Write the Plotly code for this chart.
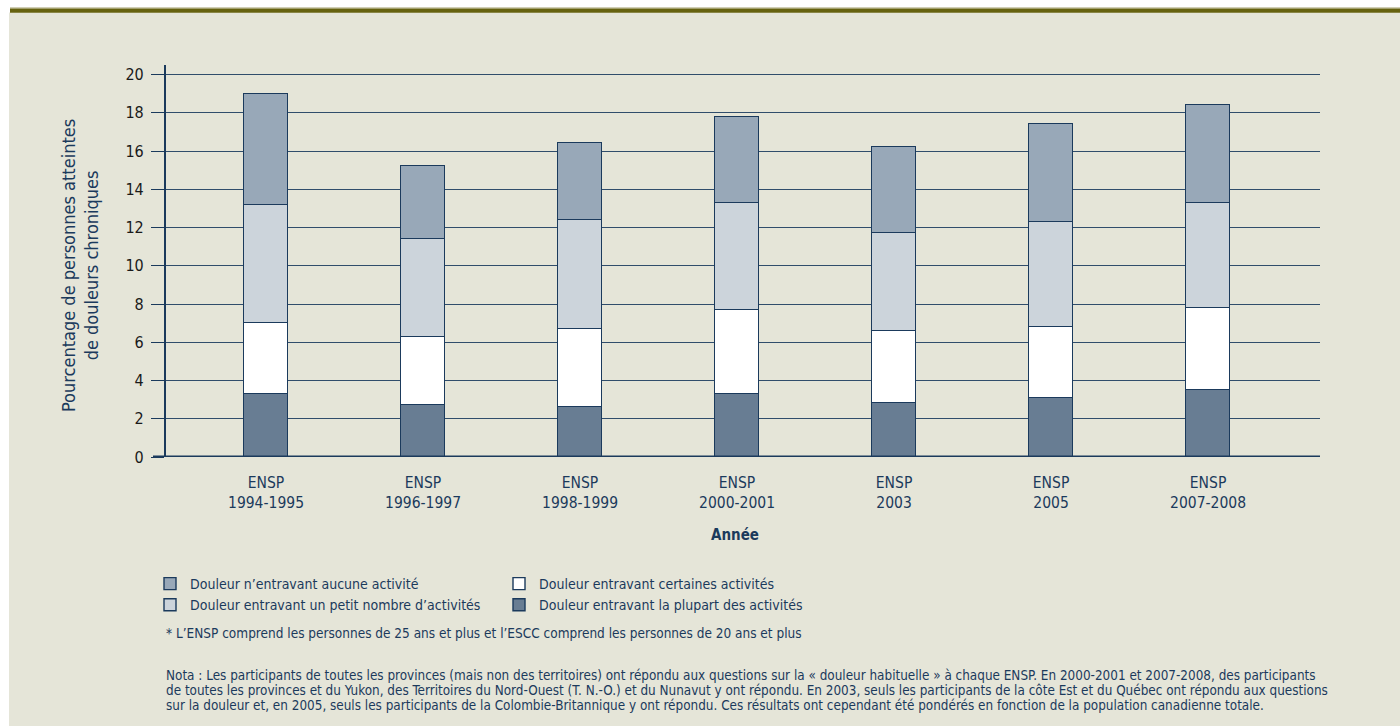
import plotly.graph_objects as go

# ---------------- data ----------------
categories = ["ENSP<br>1994-1995", "ENSP<br>1996-1997", "ENSP<br>1998-1999",
              "ENSP<br>2000-2001", "ENSP<br>2003", "ENSP<br>2005", "ENSP<br>2007-2008"]
plupart = [3.3, 2.7, 2.6, 3.3, 2.8, 3.1, 3.5]      # Douleur entravant la plupart des activités
certaines = [3.7, 3.6, 4.1, 4.4, 3.8, 3.7, 4.3]    # Douleur entravant certaines activités
petit_nombre = [6.2, 5.1, 5.7, 5.6, 5.1, 5.5, 5.5] # Douleur entravant un petit nombre d'activités
aucune = [5.8, 3.8, 4.0, 4.5, 4.5, 5.1, 5.1]       # Douleur n'entravant aucune activité
y_ticks = [0, 2, 4, 6, 8, 10, 12, 14, 16, 18, 20]

# ---------------- style ----------------
FONT = "Liberation Sans Narrow, DejaVu Sans Condensed, Arial Narrow, sans-serif"
NAVY = "#1b3a5c"
BEIGE = "#e5e5d8"
W, H = 1400, 727
L, R, T, B = 166, 80, 65, 270
PW, PH = W - L - R, H - T - B


def px_x(px):
    return (px - L) / PW


def px_y(py):
    return (H - B - py) / PH


line_style = dict(color=NAVY, width=1.4)
fig = go.Figure()
series = [
    ("Douleur entravant la plupart des activités", plupart, "#687d93", 4, "legend2"),
    ("Douleur entravant certaines activités", certaines, "#ffffff", 2, "legend2"),
    ("Douleur entravant un petit nombre d’activités", petit_nombre, "#ccd4db", 3, "legend"),
    ("Douleur n’entravant aucune activité", aucune, "#98a8b8", 1, "legend"),
]
for name, vals, col, rank, lg in series:
    fig.add_trace(go.Bar(
        x=categories, y=vals, name=name, marker=dict(color=col, line=line_style),
        width=0.28, legendrank=rank, legend=lg,
    ))

fig.update_layout(
    width=W, height=H, barmode="stack",
    margin=dict(l=L, r=R, t=T, b=B),
    paper_bgcolor="#ffffff", plot_bgcolor="rgba(0,0,0,0)",
    font=dict(family=FONT, color=NAVY),
    xaxis=dict(
        range=[-0.637, 6.713], showgrid=False, showline=False, ticks="",
        tickfont=dict(size=15.5, color=NAVY, family=FONT), ticklabelstandoff=14,
    ),
    yaxis=dict(
        range=[0, 20.5], tickvals=y_ticks, showgrid=True, gridcolor="#304d6b", gridwidth=1,
        zeroline=False, showline=True, linecolor=NAVY, linewidth=2.2,
        ticks="outside", ticklen=13, tickcolor=NAVY, tickwidth=1,
        tickfont=dict(size=16, color="#1a1a1a", family=FONT), ticklabelstandoff=4,
    ),
    legend=dict(
        x=px_x(150), y=px_y(568), xanchor="left", yanchor="top",
        bgcolor="rgba(0,0,0,0)", font=dict(size=14, color=NAVY, family=FONT),
        tracegroupgap=0, traceorder="normal",
    ),
    legend2=dict(
        x=px_x(499), y=px_y(568), xanchor="left", yanchor="top",
        bgcolor="rgba(0,0,0,0)", font=dict(size=14, color=NAVY, family=FONT),
        tracegroupgap=0, traceorder="normal",
    ),
    bargap=0,
)

# background frame (beige panel, white border, olive top band)
fig.add_shape(type="rect", xref="paper", yref="paper", layer="below",
              x0=px_x(9), x1=px_x(W), y0=px_y(726), y1=px_y(12.5),
              fillcolor=BEIGE, line=dict(width=0))
fig.add_shape(type="rect", xref="paper", yref="paper", layer="below",
              x0=px_x(10), x1=px_x(W), y0=px_y(12.7), y1=px_y(8),
              fillcolor="#66620f", line=dict(width=0))
fig.add_shape(type="rect", xref="paper", yref="paper", layer="below",
              x0=px_x(10), x1=px_x(W), y0=px_y(9), y1=px_y(7.6),
              fillcolor="#a3a06e", line=dict(width=0))
# x baseline (extends over the 0 tick)
fig.add_shape(type="line", xref="paper", yref="y", x0=px_x(153), x1=1, y0=0, y1=0,
              line=dict(color=NAVY, width=3))

# y axis title
fig.add_annotation(
    text="Pourcentage de personnes atteintes<br>de douleurs chroniques",
    xref="paper", yref="paper", x=px_x(80), y=px_y(266), textangle=-90,
    showarrow=False, font=dict(size=18, color=NAVY, family=FONT), xanchor="center", yanchor="middle",
)
# x axis title
fig.add_annotation(
    text="<b>Année</b>", xref="paper", yref="paper", x=px_x(735), y=px_y(535),
    showarrow=False, font=dict(size=15, color=NAVY, family=FONT), xanchor="center", yanchor="middle",
)

notes = [
    (633, 13.5, "* L’ENSP comprend les personnes de 25 ans et plus et l’ESCC comprend les personnes de 20 ans et plus"),
    (675, 13.4, "Nota : Les participants de toutes les provinces (mais non des territoires) ont répondu aux questions sur la « douleur habituelle » à chaque ENSP. En 2000-2001 et 2007-2008, des participants"),
    (690, 13.4, "de toutes les provinces et du Yukon, des Territoires du Nord-Ouest (T. N.-O.) et du Nunavut y ont répondu. En 2003, seuls les participants de la côte Est et du Québec ont répondu aux questions"),
    (705, 13.4, "sur la douleur et, en 2005, seuls les participants de la Colombie-Britannique y ont répondu. Ces résultats ont cependant été pondérés en fonction de la population canadienne totale."),
]
for ypx, fs, txt in notes:
    fig.add_annotation(
        text=txt, xref="paper", yref="paper", x=px_x(164), y=px_y(ypx),
        showarrow=False, xanchor="left", yanchor="middle", align="left",
        font=dict(size=fs, color=NAVY, family=FONT),
    )

fig.write_html("out.html")
